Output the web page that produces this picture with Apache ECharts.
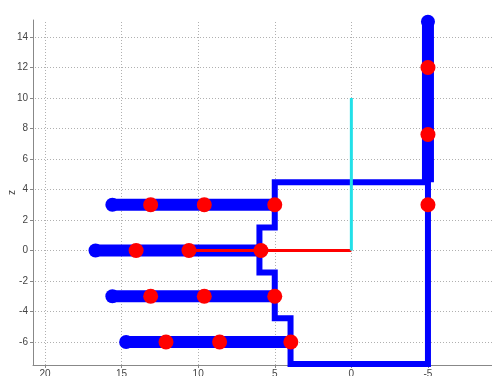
<!DOCTYPE html>
<html>
<head>
<meta charset="utf-8">
<script src="https://cdn.jsdelivr.net/npm/echarts@6/dist/echarts.min.js"></script>
<style>
  html, body { margin: 0; padding: 0; background: #fff; }
  #chart { width: 492px; height: 376px; }
</style>
</head>
<body>
<div id="chart"></div>
<script>
  // leg rows (horizontal thick bars)
  const legStart = [15.6, 16.7, 15.6, 14.7];
  const legEnd = [5.0, 5.9, 5.0, 3.95];
  const legZ = [3, 0, -3, -6];
  const legRedA = [13.1, 14.05, 13.1, 12.1];
  const legRedB = [9.6, 10.6, 9.6, 8.6];

  // vertical arm on the right
  const armX = -5;
  const armZ = [15, 4.47];
  const armRedZ = [12, 7.6, 3];

  // body frame
  const frameX = [5.0, 5.0, 6.0, 6.0, 5.0, 5.0, 3.97, 3.97, -5, -5, 5.0];
  const frameZ = [4.47, 1.5, 1.5, -1.45, -1.45, -4.45, -4.45, -7.44, -7.44, 4.47, 4.47];

  // red and cyan axes lines
  const redLineX = [10.6, 0];
  const redLineZ = [0, 0];
  const cyanLineX = [0, 0];
  const cyanLineZ = [0, 10];

  // ticks
  const xTicks = [20, 15, 10, 5, 0, -5];
  const zTicks = [-6, -4, -2, 0, 2, 4, 6, 8, 10, 12, 14];

  const BLUE = '#0000ff';
  const RED = '#ff0000';

  const chart = echarts.init(document.getElementById('chart'));

  const series = [];

  // dotted grid
  series.push({
    type: 'scatter',
    data: [],
    silent: true,
    z: 0,
    markLine: {
      silent: true,
      z: 0,
      symbol: 'none',
      animation: false,
      label: { show: false },
      lineStyle: { color: '#b0b0b0', width: 1, type: [1, 2] },
      data: xTicks.map(v => ({ xAxis: v })).concat(zTicks.map(v => ({ yAxis: v })))
    }
  });

  // thick legs
  legZ.forEach((z, i) => {
    series.push({
      type: 'line',
      data: [[legStart[i], z], [legEnd[i], z]],
      symbol: 'none',
      lineStyle: { color: BLUE, width: 12, cap: 'butt' },
      z: 3
    });
  });
  series.push({
    type: 'line',
    data: armZ.map(z => [armX, z]),
    symbol: 'none',
    lineStyle: { color: BLUE, width: 12, cap: 'butt' },
    z: 3
  });

  // body frame
  series.push({
    type: 'line',
    data: frameX.map((x, i) => [x, frameZ[i]]),
    symbol: 'none',
    lineStyle: { color: BLUE, width: 6, join: 'miter', cap: 'square' },
    z: 4
  });

  // blue end circles
  series.push({
    type: 'scatter',
    data: legStart.map((x, i) => [x, legZ[i]]).concat([[armX, armZ[0]]]),
    symbolSize: 14,
    itemStyle: { color: BLUE, opacity: 1 },
    z: 4
  });

  // red thin line and cyan line
  series.push({
    type: 'line',
    data: redLineX.map((x, i) => [x, redLineZ[i]]),
    symbol: 'none',
    lineStyle: { color: RED, width: 3 },
    z: 5
  });
  series.push({
    type: 'line',
    data: cyanLineX.map((x, i) => [x, cyanLineZ[i]]),
    symbol: 'none',
    lineStyle: { color: '#22e0e8', width: 3 },
    z: 5
  });

  // red joints
  const redPts = [];
  legZ.forEach((z, i) => {
    redPts.push([legRedA[i], z], [legRedB[i], z], [legEnd[i], z]);
  });
  armRedZ.forEach(z => redPts.push([armX, z]));
  series.push({
    type: 'scatter',
    data: redPts,
    symbolSize: 15,
    itemStyle: { color: RED, opacity: 1 },
    z: 6
  });

  const option = {
    animation: false,
    textStyle: { fontFamily: 'Liberation Sans, Arial, sans-serif' },
    grid: { left: 33, right: 0, top: 20, bottom: 11, containLabel: false, outerBoundsMode: 'none' },
    xAxis: {
      type: 'value',
      inverse: true,
      min: -9.18,
      max: 20.78,
      axisLine: { show: true, onZero: false, lineStyle: { color: '#888', width: 1 } },
      axisTick: { show: true, customValues: xTicks, length: 3, lineStyle: { color: '#888' } },
      axisLabel: { customValues: xTicks, color: '#444', fontSize: 10, margin: 4 },
      splitLine: { show: false }
    },
    yAxis: {
      type: 'value',
      min: -7.51,
      max: 15.11,
      name: 'z',
      nameLocation: 'middle',
      nameGap: 16,
      nameRotate: 90,
      nameMoveOverlap: false,
      nameTextStyle: { color: '#444', fontSize: 10 },
      axisLine: { show: true, onZero: false, lineStyle: { color: '#888', width: 1 } },
      axisTick: { show: true, customValues: zTicks, length: 3, lineStyle: { color: '#888' } },
      axisLabel: { customValues: zTicks, color: '#444', fontSize: 10, margin: 5 },
      splitLine: { show: false }
    },
    series: series
  };

  chart.setOption(option);
</script>
</body>
</html>
